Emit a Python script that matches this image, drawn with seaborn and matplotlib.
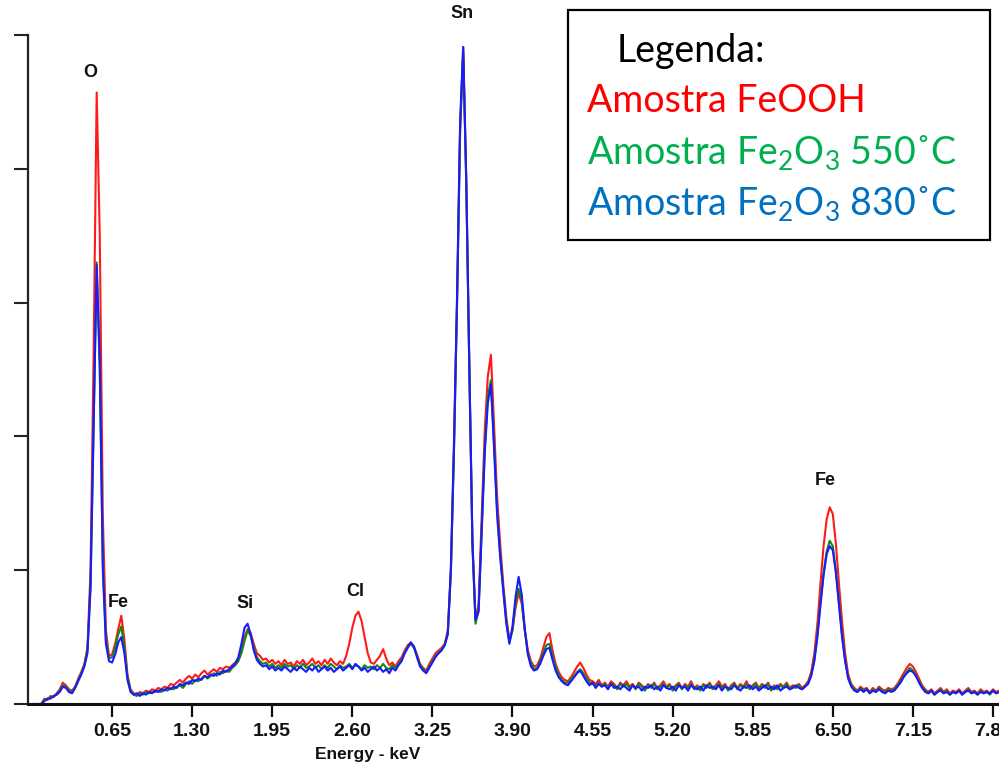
import numpy as np
import pandas as pd
import matplotlib
matplotlib.use("Agg")
import matplotlib.pyplot as plt
from matplotlib.patches import Rectangle
import seaborn as sns

# ---------------- data (counts, arbitrary units; one channel every 0.025 keV) ----------------
channel_step_kev = 0.025

feooh = [
    0, 0, 0, 0, 0.04, 0.03, 0.06, 0.05, 0.08, 0.11,
    0.16, 0.14, 0.11, 0.10, 0.13, 0.19, 0.24, 0.30, 0.42, 1.00,
    2.60, 4.57, 3.50, 1.40, 0.55, 0.36, 0.37, 0.45, 0.56, 0.66,
    0.48, 0.22, 0.11, 0.08, 0.07, 0.09, 0.08, 0.10, 0.09, 0.11,
    0.10, 0.12, 0.11, 0.13, 0.12, 0.15, 0.14, 0.16, 0.18, 0.16,
    0.19, 0.21, 0.19, 0.22, 0.20, 0.23, 0.25, 0.22, 0.24, 0.26,
    0.24, 0.27, 0.26, 0.28, 0.27, 0.29, 0.31, 0.34, 0.40, 0.50,
    0.56, 0.53, 0.45, 0.38, 0.36, 0.33, 0.34, 0.31, 0.33, 0.30,
    0.32, 0.29, 0.33, 0.30, 0.31, 0.28, 0.32, 0.30, 0.33, 0.29,
    0.31, 0.34, 0.30, 0.32, 0.29, 0.33, 0.30, 0.34, 0.31, 0.29,
    0.32, 0.30, 0.36, 0.45, 0.57, 0.66, 0.69, 0.62, 0.50, 0.38,
    0.31, 0.30, 0.33, 0.36, 0.41, 0.34, 0.29, 0.31, 0.28, 0.32,
    0.35, 0.40, 0.44, 0.46, 0.43, 0.37, 0.30, 0.27, 0.25, 0.30,
    0.34, 0.38, 0.40, 0.42, 0.45, 0.55, 1.00, 1.90, 3.00, 4.30,
    4.91, 3.90, 2.50, 1.20, 0.62, 0.75, 1.40, 2.05, 2.45, 2.61,
    2.10, 1.55, 1.20, 0.90, 0.65, 0.48, 0.55, 0.72, 0.83, 0.75,
    0.55, 0.40, 0.32, 0.28, 0.29, 0.34, 0.42, 0.50, 0.53, 0.40,
    0.30, 0.24, 0.20, 0.18, 0.17, 0.20, 0.24, 0.28, 0.31, 0.27,
    0.22, 0.18, 0.17, 0.15, 0.18, 0.14, 0.16, 0.13, 0.17, 0.15,
    0.12, 0.16, 0.14, 0.17, 0.13, 0.15, 0.12, 0.16, 0.14, 0.11,
    0.15, 0.13, 0.16, 0.12, 0.14, 0.17, 0.13, 0.15, 0.11, 0.14,
    0.16, 0.12, 0.15, 0.13, 0.17, 0.12, 0.14, 0.11, 0.15, 0.13,
    0.16, 0.12, 0.14, 0.17, 0.13, 0.15, 0.11, 0.14, 0.16, 0.12,
    0.15, 0.13, 0.17, 0.12, 0.14, 0.16, 0.12, 0.15, 0.13, 0.16,
    0.11, 0.14, 0.12, 0.15, 0.13, 0.16, 0.12, 0.14, 0.13, 0.15,
    0.12, 0.14, 0.17, 0.24, 0.38, 0.60, 0.90, 1.18, 1.38, 1.47,
    1.42, 1.20, 0.90, 0.62, 0.38, 0.22, 0.15, 0.12, 0.10, 0.13,
    0.11, 0.12, 0.09, 0.12, 0.10, 0.13, 0.11, 0.10, 0.12, 0.11,
    0.12, 0.15, 0.19, 0.23, 0.27, 0.30, 0.28, 0.24, 0.19, 0.14,
    0.11, 0.09, 0.11, 0.08, 0.10, 0.12, 0.09, 0.11, 0.08, 0.10,
    0.09, 0.11, 0.08, 0.10, 0.12, 0.09, 0.10, 0.08, 0.11, 0.09,
    0.10, 0.08, 0.11, 0.09, 0.10, 0.09,
]

fe2o3_550 = [
    0, 0, 0, 0, 0.03, 0.04, 0.05, 0.06, 0.07, 0.10,
    0.14, 0.13, 0.10, 0.09, 0.12, 0.18, 0.23, 0.29, 0.40, 0.85,
    2.05, 3.30, 2.50, 1.05, 0.48, 0.34, 0.35, 0.42, 0.52, 0.58,
    0.42, 0.20, 0.10, 0.07, 0.06, 0.08, 0.07, 0.09, 0.08, 0.09,
    0.09, 0.10, 0.09, 0.11, 0.10, 0.12, 0.11, 0.13, 0.14, 0.12,
    0.15, 0.17, 0.15, 0.18, 0.17, 0.19, 0.21, 0.19, 0.21, 0.23,
    0.21, 0.24, 0.23, 0.25, 0.24, 0.27, 0.29, 0.32, 0.38, 0.47,
    0.55, 0.51, 0.42, 0.35, 0.32, 0.30, 0.31, 0.28, 0.30, 0.27,
    0.29, 0.27, 0.30, 0.28, 0.29, 0.26, 0.29, 0.27, 0.30, 0.27,
    0.28, 0.30, 0.27, 0.29, 0.26, 0.29, 0.27, 0.30, 0.28, 0.26,
    0.29, 0.27, 0.28, 0.30, 0.27, 0.29, 0.28, 0.26, 0.29, 0.27,
    0.28, 0.26, 0.29, 0.27, 0.30, 0.27, 0.26, 0.29, 0.27, 0.30,
    0.33, 0.38, 0.43, 0.45, 0.42, 0.36, 0.29, 0.26, 0.24, 0.28,
    0.32, 0.36, 0.38, 0.41, 0.44, 0.53, 0.98, 1.88, 2.98, 4.28,
    4.88, 3.88, 2.48, 1.18, 0.60, 0.70, 1.30, 1.90, 2.30, 2.42,
    1.95, 1.45, 1.12, 0.86, 0.62, 0.46, 0.55, 0.75, 0.86, 0.78,
    0.55, 0.38, 0.30, 0.26, 0.27, 0.32, 0.38, 0.44, 0.45, 0.36,
    0.27, 0.22, 0.18, 0.16, 0.16, 0.18, 0.21, 0.24, 0.26, 0.23,
    0.19, 0.16, 0.15, 0.14, 0.16, 0.13, 0.15, 0.12, 0.15, 0.14,
    0.11, 0.15, 0.13, 0.15, 0.12, 0.14, 0.11, 0.15, 0.13, 0.10,
    0.14, 0.12, 0.15, 0.11, 0.13, 0.15, 0.12, 0.14, 0.10, 0.13,
    0.15, 0.11, 0.14, 0.12, 0.15, 0.11, 0.13, 0.10, 0.14, 0.12,
    0.15, 0.11, 0.13, 0.15, 0.12, 0.14, 0.10, 0.13, 0.15, 0.11,
    0.14, 0.12, 0.15, 0.11, 0.13, 0.15, 0.11, 0.14, 0.12, 0.15,
    0.10, 0.13, 0.11, 0.14, 0.12, 0.15, 0.11, 0.13, 0.12, 0.14,
    0.11, 0.13, 0.16, 0.22, 0.33, 0.52, 0.76, 0.98, 1.14, 1.22,
    1.18, 1.00, 0.76, 0.52, 0.33, 0.20, 0.14, 0.11, 0.09, 0.12,
    0.10, 0.11, 0.08, 0.11, 0.09, 0.12, 0.10, 0.09, 0.11, 0.10,
    0.11, 0.14, 0.17, 0.21, 0.24, 0.27, 0.25, 0.21, 0.17, 0.13,
    0.10, 0.08, 0.10, 0.07, 0.09, 0.11, 0.08, 0.10, 0.07, 0.09,
    0.08, 0.10, 0.07, 0.09, 0.11, 0.08, 0.09, 0.07, 0.10, 0.08,
    0.09, 0.07, 0.10, 0.08, 0.09, 0.08,
]

fe2o3_830 = [
    0, 0, 0, 0, 0.02, 0.04, 0.04, 0.06, 0.07, 0.09,
    0.13, 0.12, 0.09, 0.08, 0.12, 0.17, 0.22, 0.28, 0.38, 0.90,
    2.10, 3.28, 2.55, 1.00, 0.45, 0.32, 0.31, 0.37, 0.46, 0.50,
    0.38, 0.18, 0.09, 0.07, 0.08, 0.06, 0.08, 0.07, 0.09, 0.08,
    0.10, 0.09, 0.11, 0.10, 0.12, 0.11, 0.13, 0.12, 0.15, 0.14,
    0.16, 0.15, 0.18, 0.17, 0.19, 0.18, 0.21, 0.20, 0.22, 0.21,
    0.23, 0.22, 0.25, 0.24, 0.26, 0.28, 0.30, 0.35, 0.45, 0.57,
    0.60, 0.52, 0.40, 0.33, 0.30, 0.28, 0.29, 0.26, 0.28, 0.25,
    0.27, 0.25, 0.28, 0.26, 0.24, 0.27, 0.25, 0.28, 0.26, 0.24,
    0.27, 0.25, 0.28, 0.24, 0.26, 0.28, 0.25, 0.27, 0.24, 0.26,
    0.28, 0.25, 0.27, 0.29, 0.26, 0.30, 0.28, 0.25, 0.27, 0.24,
    0.26, 0.28, 0.25, 0.27, 0.24, 0.26, 0.23, 0.27, 0.25, 0.29,
    0.32, 0.38, 0.42, 0.46, 0.43, 0.35, 0.28, 0.25, 0.23, 0.27,
    0.31, 0.35, 0.38, 0.40, 0.44, 0.52, 1.02, 1.95, 3.05, 4.35,
    4.91, 3.92, 2.52, 1.22, 0.63, 0.69, 1.28, 1.88, 2.25, 2.39,
    1.92, 1.42, 1.10, 0.85, 0.60, 0.45, 0.58, 0.80, 0.95, 0.82,
    0.56, 0.37, 0.28, 0.25, 0.26, 0.30, 0.36, 0.41, 0.42, 0.33,
    0.25, 0.20, 0.17, 0.15, 0.14, 0.17, 0.20, 0.23, 0.25, 0.21,
    0.17, 0.14, 0.16, 0.12, 0.15, 0.13, 0.14, 0.11, 0.15, 0.12,
    0.13, 0.11, 0.14, 0.12, 0.10, 0.14, 0.12, 0.13, 0.10, 0.13,
    0.12, 0.14, 0.11, 0.13, 0.10, 0.14, 0.12, 0.11, 0.13, 0.10,
    0.14, 0.12, 0.13, 0.10, 0.14, 0.12, 0.11, 0.13, 0.10, 0.14,
    0.12, 0.13, 0.11, 0.14, 0.10, 0.13, 0.12, 0.11, 0.14, 0.12,
    0.10, 0.13, 0.12, 0.14, 0.11, 0.13, 0.10, 0.12, 0.14, 0.11,
    0.13, 0.11, 0.14, 0.10, 0.12, 0.13, 0.11, 0.12, 0.14, 0.12,
    0.11, 0.13, 0.15, 0.21, 0.32, 0.50, 0.74, 0.96, 1.12, 1.18,
    1.15, 0.98, 0.74, 0.50, 0.32, 0.19, 0.13, 0.10, 0.09, 0.11,
    0.09, 0.11, 0.08, 0.10, 0.09, 0.11, 0.09, 0.08, 0.10, 0.09,
    0.10, 0.13, 0.16, 0.20, 0.23, 0.25, 0.24, 0.21, 0.16, 0.12,
    0.09, 0.08, 0.10, 0.07, 0.09, 0.10, 0.08, 0.09, 0.07, 0.09,
    0.08, 0.10, 0.07, 0.09, 0.10, 0.08, 0.09, 0.07, 0.09, 0.08,
    0.09, 0.08, 0.10, 0.08, 0.09, 0.08,
]

series_names = ["Amostra FeOOH", "Amostra Fe2O3 550", "Amostra Fe2O3 830"]
line_colors = ["#FF1A1A", "#118A11", "#1A1AFF"]

xtick_values = [0.65, 1.30, 1.95, 2.60, 3.25, 3.90, 4.55, 5.20, 5.85, 6.50, 7.15, 7.80]
xtick_labels = ["0.65", "1.30", "1.95", "2.60", "3.25", "3.90", "4.55", "5.20", "5.85", "6.50", "7.15", "7.80"]

peak_labels = ["O", "Fe", "Si", "Cl", "Sn", "Fe"]
peak_label_kev = [0.47, 0.70, 1.73, 2.62, 3.49, 6.44]
peak_label_counts = [4.72, 0.76, 0.75, 0.84, 5.16, 1.67]

legend_title = "Legenda:"
legend_texts = ["Amostra FeOOH",
                "Amostra Fe$_2$O$_3$ 550˚C",
                "Amostra Fe$_2$O$_3$ 830˚C"]
legend_colors = ["#FF0000", "#00B050", "#0070C0"]

# ---------------- build table ----------------
frames = []
for name, vals in zip(series_names, [feooh, fe2o3_550, fe2o3_830]):
    e = np.arange(len(vals)) * channel_step_kev
    frames.append(pd.DataFrame({"energy": e, "counts": vals, "sample": name}))
df = pd.concat(frames, ignore_index=True)

# ---------------- figure ----------------
sns.set_style("ticks")
plt.rcParams["font.family"] = ["Liberation Sans", "DejaVu Sans"]
plt.rcParams["mathtext.fontset"] = "custom"
plt.rcParams["mathtext.rm"] = "Lato"
plt.rcParams["mathtext.it"] = "Lato:italic"
plt.rcParams["mathtext.bf"] = "Lato:bold"

W, H = 999, 770
fig = plt.figure(figsize=(W / 100, H / 100), dpi=100)
ax_left, ax_right, ax_top, ax_bottom = 28, 999, 35, 704
ax = fig.add_axes([ax_left / W, 1 - ax_bottom / H, (ax_right - ax_left) / W, (ax_bottom - ax_top) / H])

sns.lineplot(data=df, x="energy", y="counts", hue="sample", hue_order=series_names,
             palette=line_colors, estimator=None, sort=False, legend=False,
             linewidth=1.5, ax=ax)

px_per_kev = 123.2
x0_px = 32
ax.set_xlim((ax_left - x0_px) / px_per_kev, (ax_right - x0_px) / px_per_kev)
ax.set_ylim(0, 5)

ax.spines["top"].set_visible(False)
ax.spines["right"].set_visible(False)
ax.spines["left"].set_linewidth(1.6)
ax.spines["left"].set_color("#222222")
ax.spines["bottom"].set_linewidth(2.2)
ax.spines["bottom"].set_color("#111111")

ax.set_yticks([0, 1, 2, 3, 4, 5])
ax.set_yticklabels([])
ax.tick_params(axis="y", direction="out", length=10, width=1.5, color="#222222")
ax.set_xticks(xtick_values)
ax.set_xticklabels(xtick_labels, fontsize=14, fontweight="bold", color="#111111")
ax.tick_params(axis="x", direction="out", length=9, width=1.6, color="#111111", pad=5)

ax.set_xlabel("Energy - keV", fontsize=12.5, fontweight="bold", color="#111111")
ax.xaxis.set_label_coords((368 - ax_left) / (ax_right - ax_left), -0.064)
ax.set_ylabel("")

for lab, xk, yc in zip(peak_labels, peak_label_kev, peak_label_counts):
    ax.text(xk, yc, lab, fontsize=13, fontweight="bold", color="#111111",
            ha="center", va="center", clip_on=False)

# legend box (drawn as text in a framed box, like the original)
fig.add_artist(Rectangle((568 / W, 1 - 240 / H), (990 - 568) / W, (240 - 10) / H,
                         transform=fig.transFigure, facecolor="white",
                         edgecolor="black", linewidth=1.6, zorder=5))
fig.text(617 / W, 1 - 62 / H, legend_title, fontsize=27, color="black",
         family=["Lato", "DejaVu Sans"], va="baseline", ha="left", zorder=6)
for i, (t, c) in enumerate(zip(legend_texts, legend_colors)):
    fig.text(587 / W, 1 - (112 + 51.5 * i) / H, t, fontsize=27, color=c,
             family=["Lato", "DejaVu Sans"], va="baseline", ha="left", zorder=6)

fig.savefig("out.png", dpi=100)
